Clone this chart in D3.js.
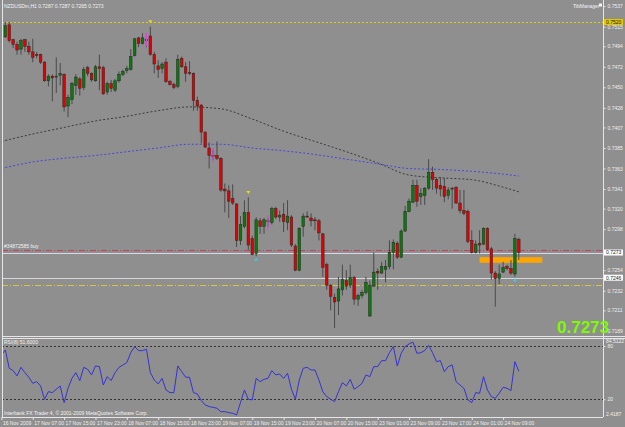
<!DOCTYPE html>
<html>
<head>
<meta charset="utf-8">
<script src="https://cdn.jsdelivr.net/npm/d3@7"></script>
<style>
  body { margin: 0; background: #8f8f8f; }
  svg { display: block; }
  text { font-family: "Liberation Sans", Arial, sans-serif; }
</style>
</head>
<body>
<svg id="chart" width="625" height="427"></svg>
<script>
// NZDUSDm H1, one value per bar
let opens = [0.7492,0.7504,0.7517,0.7501,0.7496,0.7491,0.7501,0.7494,0.7488,0.7485,
  0.7485,0.7477,0.7457,0.7462,0.7461,0.7463,0.7464,0.7430,0.7437,0.7452,
  0.7459,0.7450,0.7471,0.7465,0.7457,0.7472,0.7471,0.7445,0.7454,0.7447,
  0.7457,0.7464,0.7468,0.7469,0.7484,0.7503,0.7497,0.7501,0.7505,0.7485,
  0.7473,0.7470,0.7477,0.7456,0.7453,0.7451,0.7481,0.7472,0.7466,0.7465,
  0.7436,0.7431,0.7402,0.7385,0.7377,0.7377,0.7374,0.7341,0.7339,0.7331,
  0.7325,0.7286,0.7301,0.7316,0.7288,0.7272,0.7307,0.7301,0.7307,0.7305,
  0.7320,0.7311,0.7314,0.7305,0.7311,0.7280,0.7254,0.7301,0.7312,0.7310,
  0.7308,0.7307,0.7293,0.7260,0.7238,0.7225,0.7221,0.7233,0.7243,0.7238,
  0.7246,0.7223,0.7227,0.7230,0.7205,0.7237,0.7253,0.7251,0.7255,0.7258,
  0.7273,0.7283,0.7268,0.7296,0.7317,0.7327,0.7345,0.7333,0.7334,0.7342,
  0.7359,0.7351,0.7345,0.7344,0.7334,0.7342,0.7343,0.7326,0.7318,0.7317,
  0.7286,0.7273,0.7283,0.7282,0.7299,0.7277,0.7251,0.7245,0.7252,0.7258,
  0.7256,0.7250,0.7287];
let highs = [0.7506,0.7520,0.7520,0.7502,0.7499,0.7502,0.7502,0.7499,0.7502,0.7488,
  0.7486,0.7478,0.7464,0.7464,0.7482,0.7476,0.7465,0.7442,0.7456,0.7464,
  0.7461,0.7472,0.7473,0.7466,0.7474,0.7485,0.7473,0.7456,0.7458,0.7459,
  0.7467,0.7469,0.7473,0.7491,0.7503,0.7504,0.7508,0.7505,0.7515,0.7488,
  0.7479,0.7477,0.7481,0.7458,0.7455,0.7485,0.7483,0.7477,0.7478,0.7466,
  0.7440,0.7432,0.7403,0.7391,0.7383,0.7392,0.7375,0.7347,0.7345,0.7346,
  0.7326,0.7312,0.7329,0.7332,0.7291,0.7311,0.7310,0.7310,0.7310,0.7322,
  0.7322,0.7318,0.7326,0.7329,0.7313,0.7282,0.7300,0.7315,0.7317,0.7315,
  0.7311,0.7309,0.7294,0.7262,0.7239,0.7229,0.7247,0.7260,0.7254,0.7260,
  0.7248,0.7229,0.7233,0.7247,0.7243,0.7273,0.7256,0.7263,0.7265,0.7286,
  0.7287,0.7285,0.7298,0.7323,0.7331,0.7351,0.7351,0.7342,0.7343,0.7373,
  0.7365,0.7353,0.7354,0.7353,0.7343,0.7343,0.7344,0.7340,0.7340,0.7319,
  0.7297,0.7286,0.7297,0.7300,0.7300,0.7279,0.7253,0.7260,0.7263,0.7260,
  0.7265,0.7293,0.7289];
let lows = [0.7490,0.7503,0.7498,0.7492,0.7485,0.7485,0.7488,0.7485,0.7477,0.7481,
  0.7475,0.7456,0.7451,0.7435,0.7444,0.7452,0.7424,0.7418,0.7432,0.7442,
  0.7441,0.7447,0.7462,0.7456,0.7456,0.7447,0.7442,0.7442,0.7445,0.7445,
  0.7455,0.7462,0.7465,0.7468,0.7483,0.7493,0.7496,0.7493,0.7484,0.7465,
  0.7460,0.7465,0.7455,0.7452,0.7448,0.7449,0.7471,0.7456,0.7463,0.7425,
  0.7425,0.7390,0.7385,0.7363,0.7372,0.7372,0.7338,0.7316,0.7310,0.7324,
  0.7279,0.7281,0.7299,0.7276,0.7270,0.7269,0.7293,0.7293,0.7301,0.7303,
  0.7309,0.7306,0.7295,0.7297,0.7279,0.7253,0.7253,0.7290,0.7310,0.7301,
  0.7297,0.7286,0.7247,0.7233,0.7211,0.7192,0.7206,0.7227,0.7233,0.7235,
  0.7217,0.7216,0.7224,0.7228,0.7204,0.7236,0.7233,0.7250,0.7241,0.7255,
  0.7255,0.7266,0.7267,0.7295,0.7316,0.7326,0.7322,0.7324,0.7324,0.7340,
  0.7340,0.7336,0.7333,0.7327,0.7330,0.7320,0.7325,0.7315,0.7313,0.7283,
  0.7272,0.7272,0.7272,0.7281,0.7275,0.7244,0.7215,0.7239,0.7251,0.7254,
  0.7249,0.7247,0.7265];
let closes = [0.7504,0.7516,0.7500,0.7496,0.7490,0.7500,0.7494,0.7488,0.7482,0.7484,
  0.7477,0.7457,0.7462,0.7460,0.7462,0.7465,0.7429,0.7439,0.7454,0.7461,
  0.7449,0.7469,0.7465,0.7458,0.7472,0.7470,0.7443,0.7454,0.7449,0.7457,
  0.7464,0.7467,0.7470,0.7483,0.7502,0.7497,0.7503,0.7500,0.7485,0.7475,
  0.7469,0.7475,0.7456,0.7453,0.7450,0.7480,0.7472,0.7465,0.7465,0.7436,
  0.7430,0.7402,0.7386,0.7377,0.7376,0.7374,0.7340,0.7339,0.7328,0.7326,
  0.7286,0.7303,0.7316,0.7281,0.7271,0.7308,0.7301,0.7308,0.7306,0.7320,
  0.7311,0.7313,0.7306,0.7312,0.7281,0.7254,0.7299,0.7312,0.7311,0.7307,
  0.7307,0.7294,0.7257,0.7238,0.7226,0.7220,0.7234,0.7244,0.7237,0.7246,
  0.7223,0.7227,0.7230,0.7241,0.7238,0.7252,0.7251,0.7258,0.7258,0.7273,
  0.7284,0.7268,0.7296,0.7317,0.7328,0.7345,0.7328,0.7336,0.7342,0.7359,
  0.7351,0.7342,0.7341,0.7333,0.7340,0.7341,0.7326,0.7318,0.7315,0.7285,
  0.7273,0.7282,0.7281,0.7299,0.7276,0.7251,0.7245,0.7250,0.7257,0.7256,
  0.7251,0.7288,0.7273];

// moving averages, read every 8 bars
let maBars = [0,8,16,24,32,40,48,56,64,72,80,88,96,104,112,120,128,132];
let maSlow = [0.7392,0.7400,0.7407,0.7414,0.7419,0.7425,0.7429,0.7427,0.7416,0.7403,
  0.7392,0.7381,0.7369,0.7356,0.7353,0.7351,0.7343,0.7338];
let maFast = [0.7363,0.7370,0.7374,0.7377,0.7381,0.7385,0.7389,0.7389,0.7385,0.7382,
  0.7378,0.7373,0.7368,0.7363,0.7362,0.7360,0.7357,0.7355];

let rsi = [69.9,75.5,54.9,52.3,46.3,56.0,50.0,44.8,38.0,39.9,
  35.0,20.0,28.6,27.5,31.3,35.0,16.3,32.4,43.6,50.0,
  41.0,56.0,53.8,47.4,57.5,56.8,36.1,45.5,41.0,50.0,
  56.0,58.6,61.3,72.5,79.3,74.8,74.8,76.3,50.0,41.8,
  37.3,43.6,30.5,27.5,27.5,57.5,51.1,44.8,44.8,27.5,
  26.0,18.5,13.6,11.8,11.0,9.9,6.1,6.1,5.0,4.3,
  2.4,16.3,30.5,20.0,19.3,43.6,39.9,42.5,43.6,52.3,
  47.4,48.5,43.6,49.3,31.3,20.0,41.8,54.9,56.0,53.0,
  53.0,41.8,28.6,23.0,20.0,17.4,28.6,38.8,35.0,42.5,
  31.3,34.3,38.0,47.4,45.5,56.8,56.8,63.5,63.5,72.5,
  79.3,57.5,71.8,79.3,82.3,84.5,71.8,72.5,74.8,80.8,
  72.5,62.4,63.5,51.1,56.8,58.6,39.9,36.1,32.4,19.3,
  16.3,27.5,26.8,45.5,30.5,23.0,21.1,26.8,33.5,32.4,
  29.8,62.4,51.6];
let rsiLevels = [80, 20];

let levelPrices = [0.7520, 0.7276, 0.7273, 0.7246, 0.7238];
let zoneBars = [122, 138];
let zonePrices = [0.7262, 0.7268];
let sellMarks = [38, 63];
let buyMarks = [65, 131];
let flagBars = [37, 54, 68];
let flagTop = [0.7508, 0.7385, 0.7313];
let flagBottom = [0.7494, 0.7370, 0.7298];

let priceTicks = [0.7537,0.7515,0.7494,0.7472,0.7450,0.7428,0.7407,0.7385,0.7363,
  0.7341,0.7320,0.7298,0.7276,0.7254,0.7232,0.7211,0.7189];
let timeBars = [0,8,16,24,32,40,48,56,64,72,80,88,96,104,112,120,128];
let timeLabels = ["16 Nov 2009","17 Nov 07:00","17 Nov 15:00","17 Nov 23:00","18 Nov 07:00",
  "18 Nov 15:00","18 Nov 23:00","19 Nov 07:00","19 Nov 15:00","19 Nov 23:00","20 Nov 07:00",
  "20 Nov 15:00","23 Nov 01:00","23 Nov 09:00","23 Nov 17:00","24 Nov 01:00","24 Nov 09:00"];

let svg = d3.select("#chart");
let left = 2, right = 603, mainBottom = 336, rsiTop = 339, rsiBottom = 417;

svg.append("rect").attr("width", 625).attr("height", 427).attr("fill", "#8f8f8f");

let x = d3.scaleLinear().domain([0, 132]).range([1.4, 518.8]);
let y = d3.scaleLinear().domain([0.7180, 0.7540]).range([339.3, 3.34]);
let yr = d3.scaleLinear().domain([20, 80]).range([399.3, 346]);

let defs = svg.append("defs");
defs.append("clipPath").attr("id", "mainClip").append("rect")
  .attr("x", left + 1).attr("y", 0).attr("width", right - left - 1).attr("height", mainBottom);
defs.append("clipPath").attr("id", "rsiClip").append("rect")
  .attr("x", left + 1).attr("y", rsiTop).attr("width", right - left - 1).attr("height", rsiBottom - rsiTop);

let main = svg.append("g").attr("clip-path", "url(#mainClip)");

// horizontal levels
let levelStyle = [
  { c: "#e2d200", d: "2,2" },
  { c: "#c8405e", d: "6,2,1,2" },
  { c: "#d4dbe6", d: null },
  { c: "#d8d8d8", d: null },
  { c: "#d8c640", d: "6,2,1,2" }
];
main.selectAll(".lvl").data(levelPrices).enter().append("line")
  .attr("x1", left).attr("x2", right)
  .attr("y1", d => Math.round(y(d)) + 0.5).attr("y2", d => Math.round(y(d)) + 0.5)
  .attr("stroke", (d, i) => levelStyle[i].c)
  .attr("stroke-dasharray", (d, i) => levelStyle[i].d);

// orange zone
main.append("rect")
  .attr("x", x(zoneBars[0])).attr("width", x(zoneBars[1]) - x(zoneBars[0]))
  .attr("y", y(zonePrices[1])).attr("height", y(zonePrices[0]) - y(zonePrices[1]))
  .attr("fill", "#ffa500");

// moving averages
let maLine = vals => d3.line().curve(d3.curveMonotoneX)
  .x((d, i) => x(maBars[i])).y(d => y(d))(vals);
main.append("path").attr("d", maLine(maSlow)).attr("fill", "none")
  .attr("stroke", "#3a3a3a").attr("stroke-dasharray", "2,2");
main.append("path").attr("d", maLine(maFast)).attr("fill", "none")
  .attr("stroke", "#4646e0").attr("stroke-dasharray", "2,2");

// candles
let bars = d3.range(opens.length);
main.selectAll(".wick").data(bars).enter().append("line")
  .attr("x1", i => x(i)).attr("x2", i => x(i))
  .attr("y1", i => y(highs[i])).attr("y2", i => y(lows[i]))
  .attr("stroke", "#4a4a4a").attr("stroke-width", 1);
main.selectAll(".body").data(bars).enter().append("rect")
  .attr("x", i => x(i) - 1.3).attr("width", 2.6)
  .attr("y", i => y(Math.max(opens[i], closes[i])))
  .attr("height", i => Math.max(0.9, Math.abs(y(opens[i]) - y(closes[i]))))
  .attr("fill", i => closes[i] >= opens[i] ? "#0a7a0a" : "#e40000")
  .attr("stroke", "#262626").attr("stroke-width", 0.5);

// magenta marks
main.selectAll(".flag").data(flagBars).enter().append("line")
  .attr("x1", d => x(d)).attr("x2", d => x(d))
  .attr("y1", (d, i) => y(flagTop[i])).attr("y2", (d, i) => y(flagBottom[i]))
  .attr("stroke", "#e040e0").attr("stroke-width", 1.2);

// arrows
main.selectAll(".sell").data(sellMarks).enter().append("path")
  .attr("d", d => { let cx = x(d), cy = y(highs[d]) - 5; return `M${cx-2},${cy-1.5}L${cx+2},${cy-1.5}L${cx},${cy+1.5}Z`; })
  .attr("fill", "#e8e000");
main.selectAll(".buy").data(buyMarks).enter().append("path")
  .attr("d", d => { let cx = x(d), cy = y(lows[d]) + 3; return `M${cx-2},${cy+1.5}L${cx+2},${cy+1.5}L${cx},${cy-1.5}Z`; })
  .attr("fill", "#40c8f0");

// rsi panel
let rsiG = svg.append("g").attr("clip-path", "url(#rsiClip)");
rsiG.selectAll(".rl").data(rsiLevels).enter().append("line")
  .attr("x1", left).attr("x2", right)
  .attr("y1", d => Math.round(yr(d)) + 0.5).attr("y2", d => Math.round(yr(d)) + 0.5)
  .attr("stroke", "#333").attr("stroke-dasharray", "2,2");
rsiG.append("path")
  .attr("d", d3.line().x((d, i) => x(i)).y(d => yr(d))(rsi))
  .attr("fill", "none").attr("stroke", "#3333d6").attr("stroke-width", 1);

// frame
let frame = "#e6e6e6";
svg.append("line").attr("x1", left + 0.5).attr("x2", left + 0.5).attr("y1", 0).attr("y2", rsiBottom).attr("stroke", frame);
svg.append("line").attr("x1", right + 0.5).attr("x2", right + 0.5).attr("y1", 0).attr("y2", rsiBottom).attr("stroke", frame);
svg.append("line").attr("x1", left).attr("x2", 625).attr("y1", mainBottom + 0.5).attr("y2", mainBottom + 0.5).attr("stroke", frame);
svg.append("line").attr("x1", left).attr("x2", 625).attr("y1", mainBottom + 2.5).attr("y2", mainBottom + 2.5).attr("stroke", frame);
svg.append("line").attr("x1", left).attr("x2", right).attr("y1", rsiBottom + 0.5).attr("y2", rsiBottom + 0.5).attr("stroke", frame);

// price boxes hide the grid labels that sit right under them
let boxPrices = [levelPrices[0], levelPrices[2], levelPrices[3]];
let boxFill = ["#e2c800", "#ffffff", "#ffffff"];
let shownTicks = priceTicks.filter(t => boxPrices.every(b => Math.abs(y(t) - y(b)) > 3.5));

// price axis
let priceAxis = d3.axisRight(y).tickValues(shownTicks).tickFormat(d3.format(".4f")).tickSize(2).tickPadding(2);
let pa = svg.append("g").attr("transform", `translate(${right + 0.5},0)`).call(priceAxis);
pa.select(".domain").remove();
pa.selectAll("line").attr("stroke", frame);
pa.selectAll("text").attr("fill", "#f0f0f0").style("font-size", "5px");

let boxes = svg.selectAll(".pbox").data(boxPrices).enter().append("g")
  .attr("transform", d => `translate(${right + 1},${y(d)})`);
boxes.append("rect").attr("x", 0).attr("y", -3).attr("width", 19).attr("height", 6)
  .attr("fill", (d, i) => boxFill[i]);
boxes.append("text").attr("x", 2).attr("y", 1.8).text(d3.format(".4f"))
  .attr("fill", "#202020").style("font-size", "5px");

// rsi axis
let rsiAxis = d3.axisRight(yr).tickValues(rsiLevels).tickFormat(d3.format("d")).tickSize(2).tickPadding(2);
let ra = svg.append("g").attr("transform", `translate(${right + 0.5},0)`).call(rsiAxis);
ra.select(".domain").remove();
ra.selectAll("line").attr("stroke", frame);
ra.selectAll("text").attr("fill", "#f0f0f0").style("font-size", "5px");
svg.append("text").attr("x", right + 3).attr("y", 342.5).text("84.5122").attr("fill", "#f0f0f0").style("font-size", "5px");
svg.append("text").attr("x", right + 3).attr("y", 415.5).text("2.4187").attr("fill", "#f0f0f0").style("font-size", "5px");

// time axis
let tg = svg.selectAll(".tl").data(timeBars).enter().append("g")
  .attr("transform", d => `translate(${x(d)},${rsiBottom})`);
tg.append("line").attr("x1", 0.5).attr("x2", 0.5).attr("y1", 0).attr("y2", 3).attr("stroke", frame);
tg.append("text").attr("x", 1.5).attr("y", 7.5).text((d, i) => timeLabels[i])
  .attr("fill", "#f0f0f0").style("font-size", "5px");

// labels
let small = (tx, ty, s) => svg.append("text").attr("x", tx).attr("y", ty).text(s)
  .attr("fill", "#f4f4f4").style("font-size", "5px");
small(4, 7.5, "NZDUSDm,H1  0.7287 0.7287 0.7265 0.7273");
small(573, 7.5, "TibManager");
svg.append("rect").attr("x", 599).attr("y", 3.5).attr("width", 3).attr("height", 3).attr("fill", "#f4f4f4");
small(4, 247.5, "#34872585 buy");
small(4, 344, "RSI(8) " + d3.format(".4f")(rsi[rsi.length - 1]));
small(4, 415, "Interbank FX Trader 4, \u00a9 2001-2009 MetaQuotes Software Corp.");

svg.append("text").attr("x", 557).attr("y", 333).text(d3.format(".4f")(closes[closes.length - 1]))
  .attr("fill", "#7cfc00").style("font-size", "17px").style("font-weight", "bold");
</script>
</body>
</html>
